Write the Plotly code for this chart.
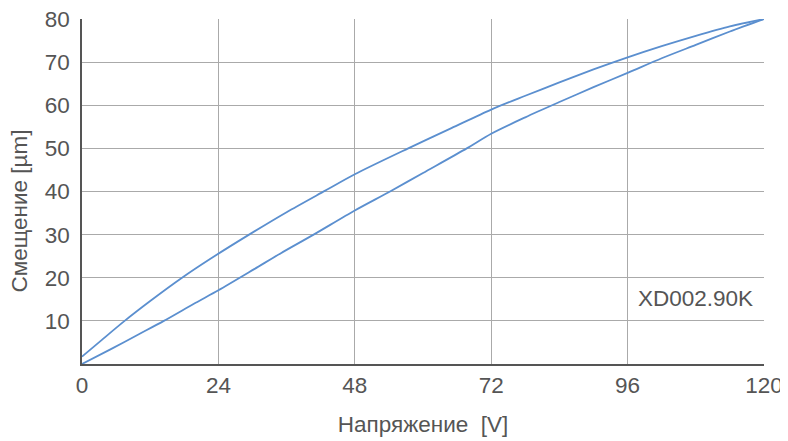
import plotly.graph_objects as go

# rising branch (lower curve), voltage in V, displacement in um
up_v = [0, 5, 10, 14.4, 20, 24, 30.3, 35, 40.75, 48, 54.2, 60, 67.7, 72, 78, 84.1, 90, 96, 102, 108, 114, 120]
up_d = [0, 3.4, 6.9, 10, 14.2, 17.1, 22.0, 25.7, 30, 35.6, 40, 44.3, 50, 53.4, 57.2, 60.8, 64.2, 67.5, 70.9, 74.0, 77.1, 80]

# falling branch (upper curve)
down_v = [0, 3.5, 7.5, 12, 17.6, 22.6, 29.4, 36, 42.8, 48, 57.4, 65, 72, 78, 84, 90, 96, 102, 108, 114, 120]
down_d = [1.7, 5.6, 10, 14.6, 20, 24.4, 30, 35.2, 40.2, 44.0, 50, 54.7, 59, 62.2, 65.3, 68.3, 71.1, 73.7, 76.1, 78.3, 80]

x_ticks = [0, 24, 48, 72, 96, 120]
y_ticks = [10, 20, 30, 40, 50, 60, 70, 80]

font = "Liberation Sans"
grey = "#555555"
fsize = 22.5

fig = go.Figure()
for xs, ys in [(up_v, up_d), (down_v, down_d)]:
    fig.add_trace(go.Scatter(x=xs, y=ys, mode="lines",
                             line=dict(color="#5b8fcf", width=1.8, shape="spline", smoothing=0.8),
                             showlegend=False, hoverinfo="skip"))

fig.add_annotation(x=118.5, y=15.2, xref="x", yref="y", text="XD002.90K", showarrow=False,
                   xanchor="right", yanchor="middle", font=dict(family=font, size=fsize, color=grey))

# y title as annotation so it can sit further left than the margin allows
fig.add_annotation(x=-0.092, y=0.443, xref="paper", yref="paper", text="Смещение [µm]", showarrow=False,
                   textangle=-90, xanchor="center", yanchor="middle",
                   font=dict(family=font, size=fsize, color=grey))

fig.update_xaxes(range=[0, 120], tickvals=x_ticks, showgrid=True, gridcolor="#aaaaaa", gridwidth=1,
                 showline=True, linecolor=grey, linewidth=1.5, zeroline=False, ticks="",
                 automargin=False, ticklabeloverflow="allow", ticklabelstandoff=0,
                 tickfont=dict(family=font, size=fsize, color=grey),
                 title=dict(text="Напряжение  [V]", font=dict(family=font, size=fsize, color=grey), standoff=19))
fig.update_yaxes(range=[0, 80], tickvals=y_ticks, showgrid=True, gridcolor="#aaaaaa", gridwidth=1,
                 showline=True, linecolor=grey, linewidth=1.5, zeroline=False, ticks="",
                 automargin=False, ticklabeloverflow="allow", ticklabelstandoff=6,
                 tickfont=dict(family=font, size=fsize, color=grey))

# page body has an 8px margin, so the figure is 8px smaller and shifted
fig.update_layout(width=780, height=433, margin=dict(l=74, r=24, t=11, b=77),
                  plot_bgcolor="white", paper_bgcolor="white")

fig.write_html("out.html")
